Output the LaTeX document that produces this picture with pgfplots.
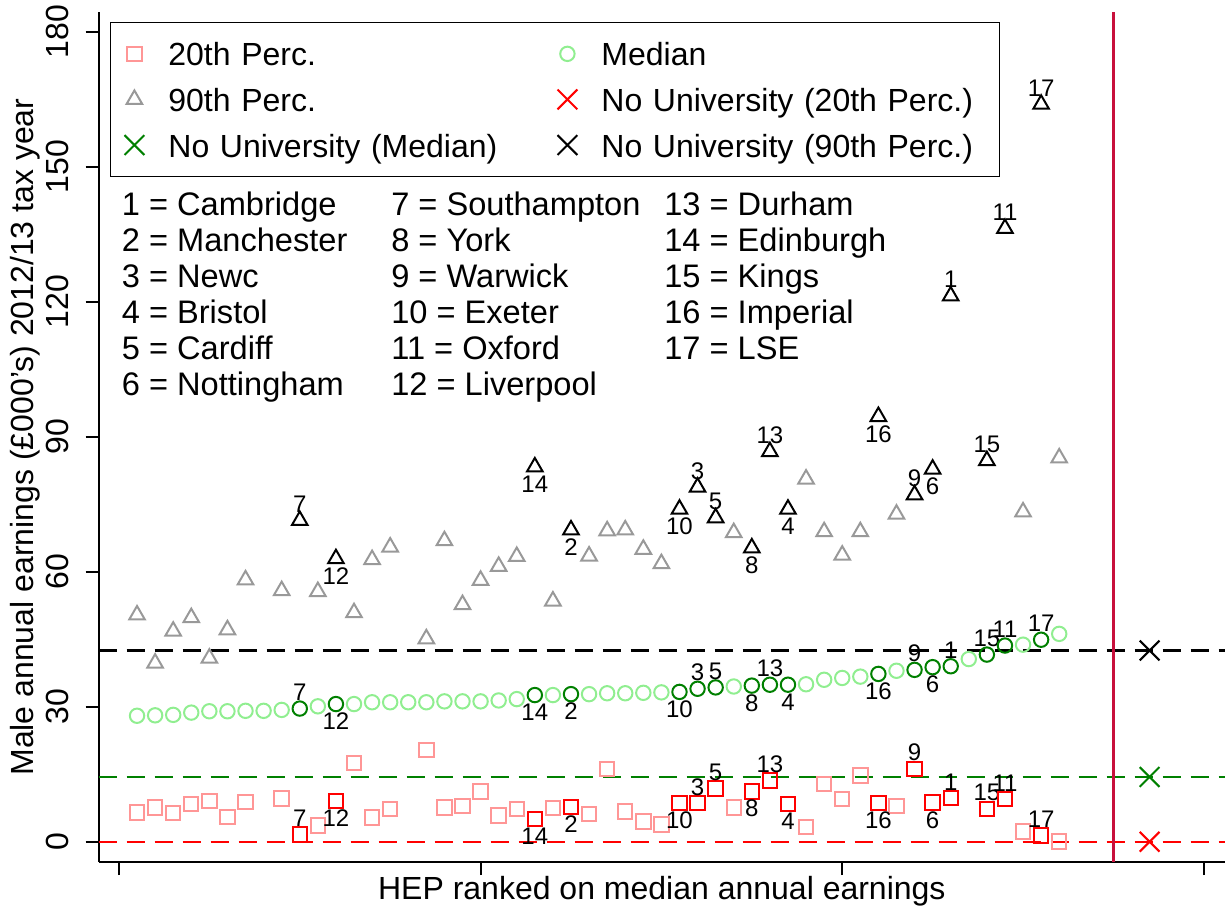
\documentclass[border=0pt]{standalone}
\usepackage{fontspec}
\setmainfont{Liberation Sans}
\usepackage{pgfplots}
\pgfplotsset{compat=1.18}

\definecolor{pinkm}{RGB}{255,150,150}
\definecolor{lgreen}{RGB}{144,238,144}
\definecolor{graym}{RGB}{153,153,153}
\definecolor{dgreen}{RGB}{0,128,0}
\definecolor{cranb}{RGB}{200,16,60}

\newcommand{\fs}[1]{\fontsize{#1}{#1}\selectfont}

\pgfplotsset{
  above lab/.style={nodes near coords, point meta=explicit symbolic,
    every node near coord/.append style={anchor=base, inner sep=0pt, yshift=4pt, font=\fs{12}, text=black}},
  below lab/.style={nodes near coords, point meta=explicit symbolic,
    every node near coord/.append style={anchor=base, inner sep=0pt, yshift=-12.8pt, font=\fs{12}, text=black}},
  leg/.style={legend image code/.code={\path[draw=none, fill=none] (-6pt,-5pt) rectangle (6pt,5pt); \draw[##1] plot coordinates {(0pt,0pt)};}},
}

\begin{document}
\begin{tikzpicture}
\begin{axis}[
  scale only axis, width=563.15pt, height=425pt,
  xmin=-1.12, xmax=61.17, ymin=-4.5, ymax=184.4,
  clip=false,
  axis x line=bottom, axis y line=left,
  axis line style={-, line width=1pt, black},
  tick align=outside, major tick length=6.5pt,
  tick style={line width=1pt, black},
  xtick={0,20,40,60}, xticklabels={},
  ytick={0,30,60,90,120,150,180},
  /pgf/number format/assume math mode=true,
  yticklabel style={rotate=90, anchor=south, inner sep=0pt, font=\fs{16}},
  yticklabel shift=8pt,
  xlabel={HEP ranked on median annual earnings},
  ylabel={Male annual earnings (£000's) 2012/13 tax year},
  xlabel style={at={(axis description cs:0.5,-0.0447)}, anchor=base, inner sep=0pt, font=\fs{16}},
  ylabel style={at={(axis description cs:-0.058,0.5)}, rotate=0, anchor=base, inner sep=0pt, font=\fs{16}},
  legend columns=2, legend cell align=left,
  legend style={at={(axis cs:-0.5,182.2)}, anchor=north west, draw=black, line width=0.5pt,
    inner xsep=6pt, inner ysep=9.65pt, font=\fs{16},
    nodes={inner sep=0pt, text height=12.15pt, text depth=0pt, text width=193pt, align=left},
    /tikz/column sep=0pt,
    /tikz/every odd column/.append style={column sep=11pt},
    /tikz/every even column/.append style={column sep=0.5pt},
    row sep=10.65pt},
]
% reference lines
\addplot[forget plot, red, line width=1.1pt, dash pattern=on 9pt off 5pt] coordinates {(-1.12,0) (61.17,0)};
\addplot[forget plot, dgreen, line width=1.1pt, dash pattern=on 9pt off 5pt] coordinates {(-1.12,14.4) (61.17,14.4)};
\addplot[forget plot, black, line width=1.1pt, dash pattern=on 9pt off 5pt] coordinates {(-1.12,42.5) (61.17,42.5)};
\addplot[forget plot, cranb, line width=1.1pt] coordinates {(55,-4.5) (55,184.4)};

% 20th percentile (light)
\addplot[forget plot, only marks, mark=square, mark size=3.6pt, pinkm, line width=1pt] coordinates {
(1,6.5)(2,7.6)(3,6.4)(4,8.4)(5,9.1)(6,5.5)(7,8.8)(9,9.6)(11,3.6)(13,17.5)(14,5.4)(15,7.3)(17,20.4)(18,7.6)(19,7.9)(20,11.2)(21,5.8)(22,7.3)(24,7.5)(26,6.2)(27,16.2)(28,6.7)(29,4.5)(30,3.8)(34,7.6)(38,3.3)(39,12.9)(40,9.5)(41,14.7)(43,8.0)(50,2.3)(52,0.1)};
% median (light)
\addplot[forget plot, only marks, mark=o, mark size=3.6pt, lgreen, line width=1pt] coordinates {
(1,28.0)(2,28.1)(3,28.2)(4,28.7)(5,29.0)(6,29.0)(7,29.1)(8,29.1)(9,29.3)(11,30.1)(13,30.6)(14,31.0)(15,31.0)(16,31.0)(17,31.0)(18,31.2)(19,31.2)(20,31.2)(21,31.4)(22,31.7)(24,32.6)(26,32.8)(27,33.0)(28,33.0)(29,33.1)(30,33.2)(34,34.5)(38,35.0)(39,36.0)(40,36.4)(41,36.7)(43,38.0)(47,40.6)(50,43.8)(52,46.2)};
% 90th percentile (light)
\addplot[forget plot, only marks, mark=triangle, mark size=4.5pt, graym, line width=1pt] coordinates {
(1,50.4)(2,39.7)(3,46.8)(4,49.8)(5,40.8)(6,47.1)(7,58.2)(9,55.8)(11,55.6)(13,50.9)(14,62.7)(15,65.5)(17,45.1)(18,66.9)(19,52.7)(20,58.1)(21,61.2)(22,63.4)(24,53.5)(26,63.5)(27,69.1)(28,69.3)(29,65.0)(30,61.8)(34,68.7)(38,80.6)(39,68.9)(40,63.7)(41,68.9)(43,72.8)(50,73.3)(52,85.3)};

% highlighted 20th
\addplot[forget plot, only marks, mark=square, mark size=3.6pt, red, line width=1pt, above lab] coordinates {
(10,1.6)[7] (32,8.6)[3] (33,11.8)[5] (36,13.6)[13] (44,16.2)[9] (46,9.7)[1] (48,7.3)[15] (49,9.5)[11] (51,1.4)[17]};
\addplot[forget plot, only marks, mark=square, mark size=3.6pt, red, line width=1pt, below lab] coordinates {
(12,9.0)[12] (23,5.1)[14] (25,7.7)[2] (31,8.6)[10] (35,11.2)[8] (37,8.4)[4] (42,8.6)[16] (45,8.7)[6]};
% highlighted median
\addplot[forget plot, only marks, mark=o, mark size=3.6pt, dgreen, line width=1pt, above lab] coordinates {
(10,29.6)[7] (32,34.0)[3] (33,34.3)[5] (36,34.9)[13] (44,38.2)[9] (46,39.0)[1] (48,41.6)[15] (49,43.6)[11] (51,44.9)[17]};
\addplot[forget plot, only marks, mark=o, mark size=3.6pt, dgreen, line width=1pt, below lab] coordinates {
(12,30.6)[12] (23,32.6)[14] (25,32.8)[2] (31,33.3)[10] (35,34.7)[8] (37,34.9)[4] (42,37.3)[16] (45,38.8)[6]};
% highlighted 90th
\addplot[forget plot, only marks, mark=triangle, mark size=4.5pt, black, line width=1pt, above lab] coordinates {
(10,71.4)[7] (32,78.8)[3] (33,72.0)[5] (36,86.7)[13] (44,77.1)[9] (46,121.3)[1] (48,84.7)[15] (49,136.3)[11] (51,163.9)[17]};
\addplot[forget plot, only marks, mark=triangle, mark size=4.5pt, black, line width=1pt, below lab] coordinates {
(12,62.9)[12] (23,83.3)[14] (25,69.3)[2] (31,73.9)[10] (35,65.3)[8] (37,73.9)[4] (42,94.5)[16] (45,82.8)[6]};

% no university
\addplot[forget plot, only marks, mark=x, mark size=7pt, red, line width=1pt] coordinates {(57,0)};
\addplot[forget plot, only marks, mark=x, mark size=7pt, dgreen, line width=1pt] coordinates {(57,14.4)};
\addplot[forget plot, only marks, mark=x, mark size=7pt, black, line width=1pt] coordinates {(57,42.5)};

% legend
\addlegendimage{only marks, mark=square, mark size=3.6pt, pinkm, line width=1pt, leg}
\addlegendentry{20th Perc.}
\addlegendimage{only marks, mark=o, mark size=3.6pt, lgreen, line width=1pt, leg}
\addlegendentry{Median}
\addlegendimage{only marks, mark=triangle, mark size=4.5pt, graym, line width=1pt, leg}
\addlegendentry{90th Perc.}
\addlegendimage{only marks, mark=x, mark size=7pt, red, line width=1pt, leg}
\addlegendentry{No University (20th Perc.)}
\addlegendimage{only marks, mark=x, mark size=7pt, dgreen, line width=1pt, leg}
\addlegendentry{No University (Median)}
\addlegendimage{only marks, mark=x, mark size=7pt, black, line width=1pt, leg}
\addlegendentry{No University (90th Perc.)}

% key
\node[anchor=base west, inner sep=0pt, font=\fontsize{16.3}{18}\selectfont] at (axis cs:0.14,139.27)
  {\begin{tabular}[t]{@{}l@{}}1 = Cambridge\\2 = Manchester\\3 = Newc\\4 = Bristol\\5 = Cardiff\\6 = Nottingham\end{tabular}};
\node[anchor=base west, inner sep=0pt, font=\fontsize{16.3}{18}\selectfont] at (axis cs:15.04,139.27)
  {\begin{tabular}[t]{@{}l@{}}7 = Southampton\\8 = York\\9 = Warwick\\10 = Exeter\\11 = Oxford\\12 = Liverpool\end{tabular}};
\node[anchor=base west, inner sep=0pt, font=\fontsize{16.3}{18}\selectfont] at (axis cs:30.14,139.27)
  {\begin{tabular}[t]{@{}l@{}}13 = Durham\\14 = Edinburgh\\15 = Kings\\16 = Imperial\\17 = LSE\end{tabular}};
\end{axis}
\pgfresetboundingbox
\path ([shift={(-49.35pt,-24.5pt)}]current axis.south west) rectangle ([shift={(563.15pt,431pt)}]current axis.south west);
\end{tikzpicture}
\end{document}
